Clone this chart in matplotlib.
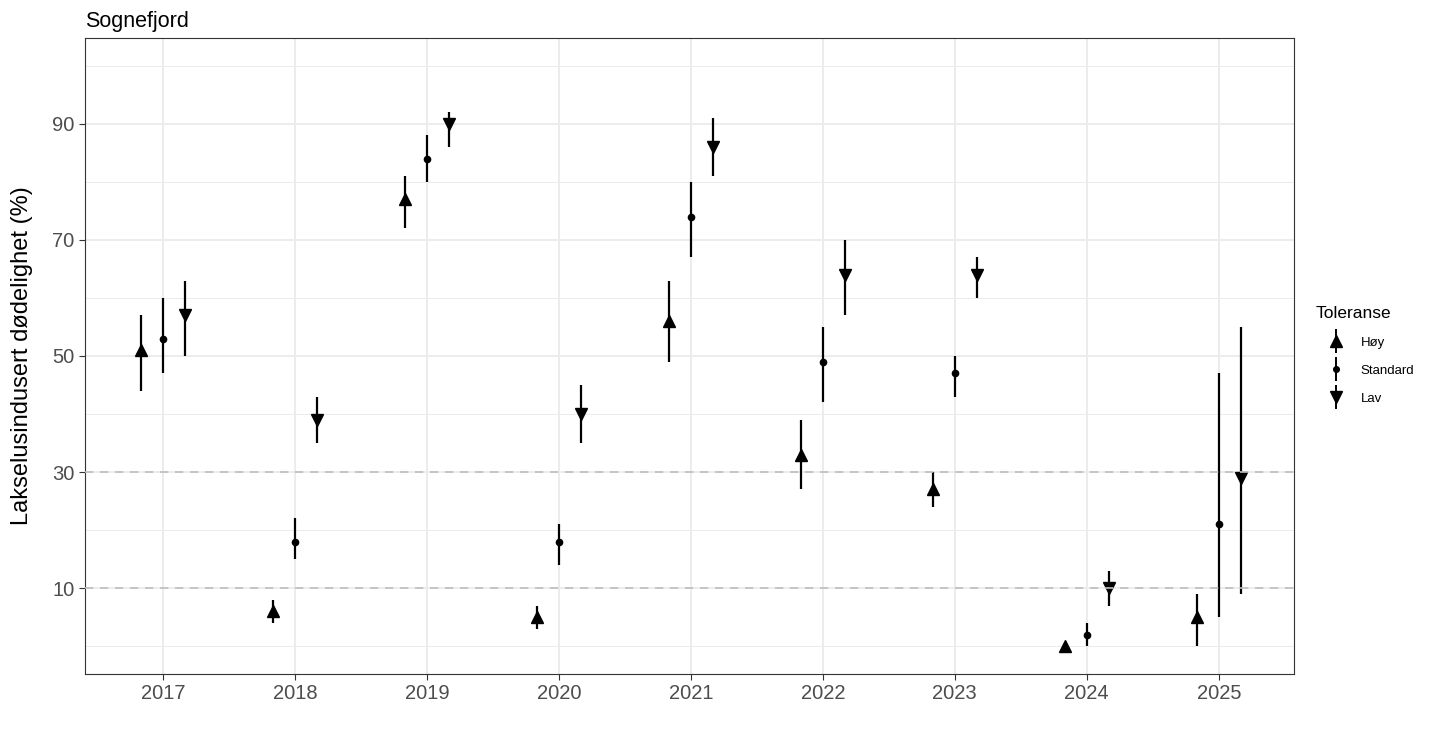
import numpy as np
import matplotlib
matplotlib.use("Agg")
import matplotlib.pyplot as plt
from matplotlib.lines import Line2D
from matplotlib.legend_handler import HandlerTuple

plt.rcParams['font.family'] = ['Liberation Sans', 'DejaVu Sans']

# Data
years = [2017, 2018, 2019, 2020, 2021, 2022, 2023, 2024, 2025]

hoy_mid = [51, 6, 77, 5, 56, 33, 27, 0, 5]
hoy_lo = [44, 4, 72, 3, 49, 27, 24, 0, 0]
hoy_hi = [57, 8, 81, 7, 63, 39, 30, 0, 9]

std_mid = [53, 18, 84, 18, 74, 49, 47, 2, 21]
std_lo = [47, 15, 80, 14, 67, 42, 43, 0, 5]
std_hi = [60, 22, 88, 21, 80, 55, 50, 4, 47]

lav_mid = [57, 39, 90, 40, 86, 64, 64, 10, 29]
lav_lo = [50, 35, 86, 35, 81, 57, 60, 7, 9]
lav_hi = [63, 43, 92, 45, 91, 70, 67, 13, 55]

groups = ['Høy', 'Standard', 'Lav']
offsets = [-0.167, 0, 0.167]
markers = ['^', 'o', 'v']
msizes = [9, 4.5, 9]

series = [(hoy_mid, hoy_lo, hoy_hi), (std_mid, std_lo, std_hi), (lav_mid, lav_lo, lav_hi)]

fig = plt.figure(figsize=(14.36, 7.56), dpi=100)
ax = fig.add_axes([85 / 1436, 1 - 674 / 756, (1294 - 85) / 1436, (674 - 38) / 756])

for (mid, lo, hi), off, mk, ms in zip(series, offsets, markers, msizes):
    x = np.array(years) + off
    ax.vlines(x, lo, hi, color='black', lw=1.6, zorder=3)
    ax.plot(x, mid, ls='none', marker=mk, ms=ms, color='black', zorder=4)

# reference lines drawn on top, as in the original
for yref in [10, 30]:
    ax.axhline(yref, color='#BEBEBE', lw=1.2, ls=(0, (5, 4)), zorder=5)

ax.set_xlim(2016.41, 2025.57)
ax.set_ylim(-4.8, 104.8)
ax.set_xticks(years)
ax.set_yticks([10, 30, 50, 70, 90])
ax.set_yticks([0, 20, 40, 60, 80, 100], minor=True)
ax.grid(which='major', color='#EBEBEB', lw=1.3, zorder=0)
ax.grid(which='minor', axis='y', color='#EBEBEB', lw=0.7, zorder=0)
ax.set_axisbelow(True)
ax.tick_params(which='major', length=4, color='#333333', labelsize=14.5, labelcolor='#4D4D4D', width=0.8)
ax.tick_params(which='minor', length=0)
for s in ax.spines.values():
    s.set_color('#333333')
    s.set_linewidth(0.8)

ax.set_ylabel('Lakselusindusert dødelighet (%)', fontsize=17, labelpad=14)
ax.set_title('Sognefjord', loc='left', fontsize=15.5, pad=8)

# legend keys: point with a short vertical range line through it
leg_handles = []
for mk, ms in zip(markers, msizes):
    bar = Line2D([0], [0], color='black', marker='|', ms=17, mew=1.4, ls='none')
    pt = Line2D([0], [0], color='black', marker=mk, ms=ms * 0.9, ls='none')
    leg_handles.append((bar, pt))
leg = fig.legend(leg_handles, groups, title='Toleranse', loc='upper left',
                 bbox_to_anchor=(1304 / 1436, 1 - 294 / 756), frameon=False,
                 fontsize=9.5, title_fontsize=12.5, handlelength=3.1, handletextpad=0.3,
                 labelspacing=1.2,
                 handler_map={tuple: HandlerTuple(ndivide=1, pad=0)},
                 alignment='left')

fig.savefig('out.png', dpi=100)
